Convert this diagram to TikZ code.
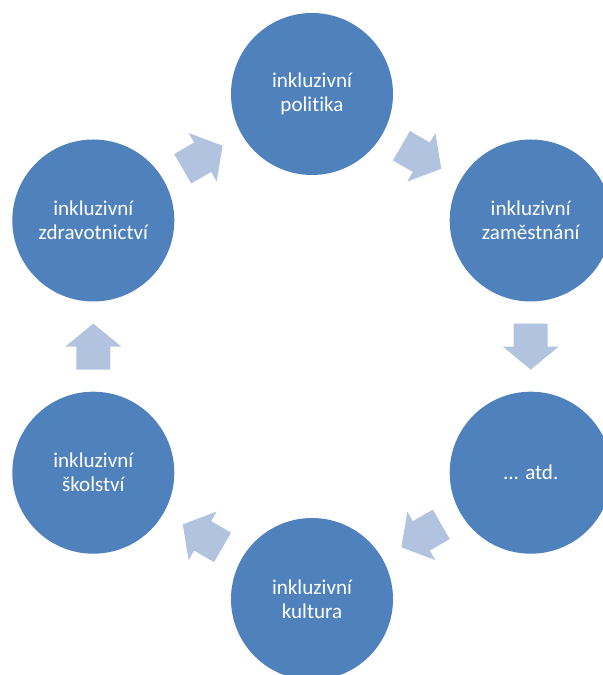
\documentclass[tikz,border=0pt]{standalone}
\usepackage{fontspec}
\setmainfont[Ligatures=NoCommon]{Carlito}
\definecolor{cycleblue}{HTML}{4F81BD}
\definecolor{arrowblue}{HTML}{B2C3DF}
\tikzset{
  phase/.style={circle,fill=cycleblue,minimum size=121.5pt,inner sep=0pt,
    text=white,align=center,font=\fontsize{15.8pt}{18pt}\selectfont},
  cyclearrow/.pic={\fill[arrowblue] (-23,-17) -- (0,-17) -- (0,-28) -- (23,0)
    -- (0,28) -- (0,17) -- (-23,17) -- cycle;}
}

\begin{document}
\begin{tikzpicture}[x=0.75pt,y=0.75pt]
\useasboundingbox (0,0) rectangle (603,675);
% the six phases
\node[phase] (pol) at (312,581) {inkluzivní\\politika};
\node[phase] (zam) at (530.7,454.5) {inkluzivní\\zaměstnání};
\node[phase] (atd) at (530.7,202.3) {... atd.};
\node[phase] (kul) at (312,76) {inkluzivní\\kultura};
\node[phase] (sko) at (93.3,202.3) {inkluzivní\\školství};
\node[phase] (zdr) at (93.3,454.5) {inkluzivní\\zdravotnictví};
% arrows between them
\path (zdr.center) -- (pol.center) coordinate[midway] (a1);
\path (pol.center) -- (zam.center) coordinate[midway] (a2);
\path (zam.center) -- (atd.center) coordinate[midway] (a3);
\path (atd.center) -- (kul.center) coordinate[midway] (a4);
\path (kul.center) -- (sko.center) coordinate[midway] (a5);
\path (sko.center) -- (zdr.center) coordinate[midway] (a6);
\pic[rotate=30] at (a1) {cyclearrow};
\pic[rotate=-30] at (a2) {cyclearrow};
\pic[rotate=-90] at (a3) {cyclearrow};
\pic[rotate=-150] at (a4) {cyclearrow};
\pic[rotate=150] at (a5) {cyclearrow};
\pic[rotate=90] at (a6) {cyclearrow};
\end{tikzpicture}
\end{document}
